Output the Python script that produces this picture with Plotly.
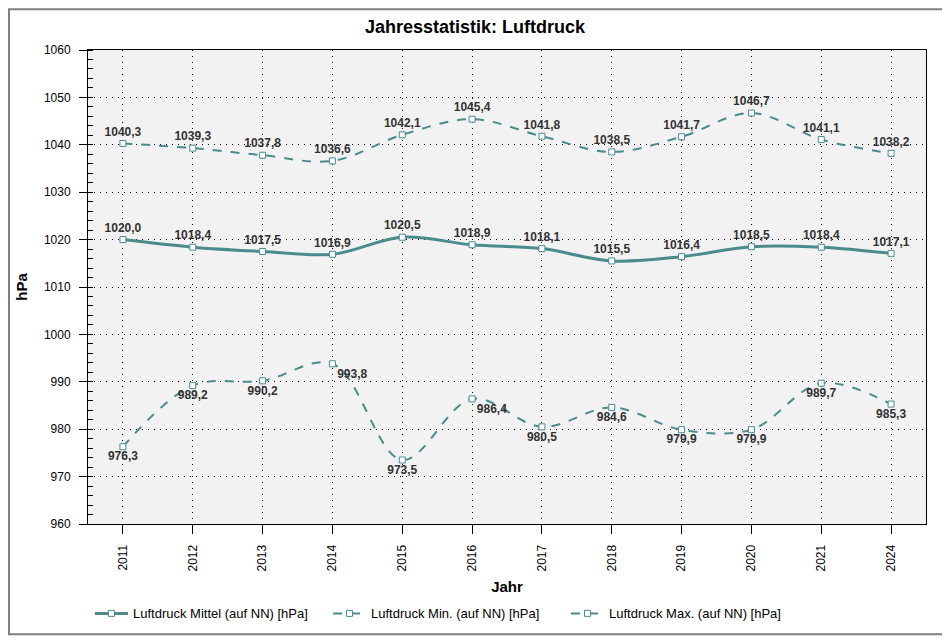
import plotly.graph_objects as go

years = ["2011", "2012", "2013", "2014", "2015", "2016", "2017", "2018", "2019", "2020", "2021", "2024"]
mittel = [1020.0, 1018.4, 1017.5, 1016.9, 1020.5, 1018.9, 1018.1, 1015.5, 1016.4, 1018.5, 1018.4, 1017.1]
minimum = [976.3, 989.2, 990.2, 993.8, 973.5, 986.4, 980.5, 984.6, 979.9, 979.9, 989.7, 985.3]
maximum = [1040.3, 1039.3, 1037.8, 1036.6, 1042.1, 1045.4, 1041.8, 1038.5, 1041.7, 1046.7, 1041.1, 1038.2]
min_pos = ["bottom center", "bottom center", "bottom center", "bottom right", "bottom center", "bottom right",
           "bottom center", "bottom center", "bottom center", "bottom center", "bottom center", "bottom center"]

teal = "#4b8b8c"
font = "Liberation Sans, Arial, sans-serif"

# page body adds 8px around the figure, so the figure is 8px smaller than the window
W, H = 942, 632
L, R, T, B = 80, 24, 42, 113
pw, ph = W - L - R, H - T - B


def de(values):
    return [f"{v:.1f}".replace(".", ",") for v in values]


fig = go.Figure()
fig.add_trace(go.Scatter(
    x=years, y=mittel, name="Luftdruck Mittel (auf NN) [hPa]",
    mode="lines+markers+text", text=de(mittel), textposition="top center",
    line=dict(color=teal, width=3, shape="spline"),
))
fig.add_trace(go.Scatter(
    x=years, y=minimum, name="Luftdruck Min. (auf NN) [hPa]",
    mode="lines+markers+text", text=de(minimum), textposition=min_pos,
    line=dict(color=teal, width=2, dash="dash", shape="spline"),
))
fig.add_trace(go.Scatter(
    x=years, y=maximum, name="Luftdruck Max. (auf NN) [hPa]",
    mode="lines+markers+text", text=de(maximum), textposition="top center",
    line=dict(color=teal, width=2, dash="dash", shape="spline"),
))
fig.update_traces(
    marker=dict(symbol="square", size=6, color="white", line=dict(color=teal, width=1)),
    textfont=dict(family=font, size=12, color="#333333"),
    texttemplate="<b>%{text}</b>", cliponaxis=False,
)

fig.update_layout(
    width=W, height=H,
    margin=dict(l=L, r=R, t=T, b=B),
    paper_bgcolor="white", plot_bgcolor="#f2f2f2",
    font=dict(family=font, size=12, color="black"),
    title=dict(text="<b>Jahresstatistik: Luftdruck</b>", x=467 / W, xref="container", xanchor="center",
               y=1 - 19 / H, yanchor="middle", font=dict(size=18, color="black")),
    xaxis=dict(
        type="category", range=[-0.5, 11.5], tickangle=-90, automargin=False,
        showline=True, linecolor="black", mirror=True,
        ticks="outside", ticklen=9, tickcolor="black", ticklabelstandoff=6,
        showgrid=True, gridcolor="black", griddash="1px,5px", gridwidth=1,
        title=dict(text="<b>Jahr</b>", font=dict(size=15), standoff=10),
    ),
    yaxis=dict(
        range=[960, 1060], dtick=10, automargin=False,
        showline=True, linecolor="black", mirror=True,
        ticks="outside", ticklen=8, tickcolor="black", ticklabelstandoff=6,
        minor=dict(dtick=2, ticks="inside", ticklen=5, tickcolor="black", showgrid=False),
        showgrid=True, gridcolor="black", griddash="1px,5px", gridwidth=1, zeroline=False,
        title=dict(text="<b>hPa</b>", font=dict(size=15), standoff=12),
    ),
    legend=dict(orientation="h", x=2 / pw, xanchor="left", y=-(609 - (T + ph)) / ph, yanchor="middle",
                entrywidth=190, itemwidth=33, font=dict(size=13)),
    shapes=[dict(type="rect", xref="paper", yref="paper",
                 x0=-(L - 1) / pw, x1=(939 - L) / pw, y0=-(630 - T - ph) / ph, y1=(T + ph - 1) / ph,
                 line=dict(color="#808080", width=2), layer="below")],
)

fig.write_html("out.html")
